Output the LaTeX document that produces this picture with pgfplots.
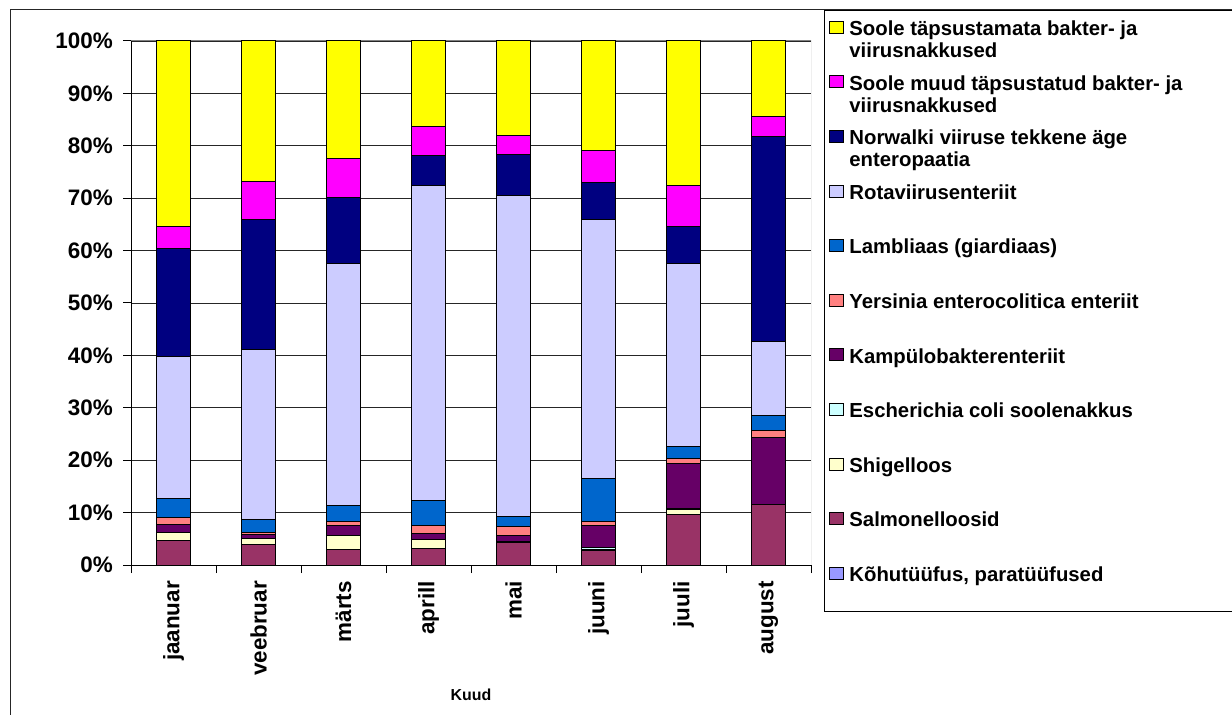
\documentclass[border=0pt]{standalone}
\usepackage{fontspec}
\setmainfont{Liberation Sans}
\usepackage{pgfplots}
\pgfplotsset{compat=1.18}
\usepackage{pgfplotstable}

\definecolor{cKh}{HTML}{9999FF}
\definecolor{cSal}{HTML}{993366}
\definecolor{cShi}{HTML}{FFFFCC}
\definecolor{cEsc}{HTML}{CCFFFF}
\definecolor{cKam}{HTML}{660066}
\definecolor{cYer}{HTML}{FF8080}
\definecolor{cLam}{HTML}{0066CC}
\definecolor{cRot}{HTML}{CCCCFF}
\definecolor{cNor}{HTML}{000080}
\definecolor{cMuu}{HTML}{FF00FF}
\definecolor{cTap}{HTML}{FFFF00}

% shares per month, %, bottom to top
\pgfplotstableread{
x kh  sal  shi esc kam  yer lam rot  nor  muu tap
0 0   4.6  1.6 0   1.6  1.2 3.7 27.0 20.7 4.2 35.4
1 0   3.9  1.2 0   0.8  0.3 2.5 32.5 24.8 7.1 26.9
2 0   2.9  2.7 0.1 1.9  0.7 3.1 46.2 12.6 7.3 22.5
3 0   3.2  1.7 0   1.2  1.4 4.8 60.1 5.7  5.5 16.4
4 0   4.3  0.2 0   1.2  1.7 1.9 61.3 7.8  3.6 18.0
5 0   2.7  0.3 0.3 4.2  0.8 8.3 49.4 7.0  6.1 20.9
6 0   9.7  0.8 0.2 8.6  1.0 2.3 35.0 7.0  7.8 27.6
7 0   11.5 0   0   12.9 1.3 2.8 14.1 39.1 3.9 14.4
}\data

\pgfplotsset{
  seg/.style={draw=black, line width=1bp,
    legend image code/.code={\draw[##1, line width=1bp] (0bp,4.6bp) rectangle (14bp,16.6bp);}},
}
\newcommand\lent[1]{\parbox[b][54.6bp][t]{382bp}{\raggedright\rule{0pt}{25bp}#1}}

\begin{document}
\begin{tikzpicture}
\path[use as bounding box] (0,0) rectangle (1232bp,715bp);
\begin{axis}[
  at={(131bp,150bp)}, anchor=south west,
  scale only axis, width=680bp, height=524bp,
  ybar stacked, bar width=34bp,
  xmin=-0.5, xmax=7.5, ymin=0, ymax=100,
  axis lines*=left,
  axis line style={black, line width=1bp},
  tick align=outside, major tick length=8bp,
  tick style={black, line width=1bp},
  xtick={-0.5,0.5,1.5,2.5,3.5,4.5,5.5,6.5,7.5},
  xticklabels={},
  extra x ticks={0,1,2,3,4,5,6,7},
  extra x tick labels={jaanuar,veebruar,märts,aprill,mai,juuni,juuli,august},
  extra x tick style={major tick length=0pt,
    xticklabel style={yshift=-16bp, rotate=90, anchor=east, inner sep=0pt}},
  ytick={0,10,...,100},
  yticklabels={0\%,10\%,20\%,30\%,40\%,50\%,60\%,70\%,80\%,90\%,100\%},
  yticklabel style={inner sep=0pt, anchor=east, xshift=-10bp},
  tick label style={font=\bfseries\fontsize{22.5}{24}\selectfont},
  ymajorgrids, grid style={black!85, line width=0.8bp},
  xlabel={Kuud},
  xlabel style={font=\bfseries\fontsize{16}{18}\selectfont,
    at={(axis description cs:0.5,-0.248)}, anchor=center},
  reverse legend,
  legend style={at={(axis description cs:1.019,1.059)}, anchor=north west,
    draw=black, line width=1bp, fill=white,
    inner xsep=5bp, inner ysep=0pt, row sep=0pt, column sep=5bp,
    font=\bfseries\fontsize{20.4}{22}\selectfont,
    nodes={inner sep=0pt, text depth=0pt}, cells={anchor=center}},
]
\addplot[seg, fill=cKh]  table[x=x, y=kh]  {\data};
\addlegendentry{\lent{Kõhutüüfus, paratüüfused}}
\addplot[seg, fill=cSal] table[x=x, y=sal] {\data};
\addlegendentry{\lent{Salmonelloosid}}
\addplot[seg, fill=cShi] table[x=x, y=shi] {\data};
\addlegendentry{\lent{Shigelloos}}
\addplot[seg, fill=cEsc] table[x=x, y=esc] {\data};
\addlegendentry{\lent{Escherichia coli soolenakkus}}
\addplot[seg, fill=cKam] table[x=x, y=kam] {\data};
\addlegendentry{\lent{Kampülobakterenteriit}}
\addplot[seg, fill=cYer] table[x=x, y=yer] {\data};
\addlegendentry{\lent{Yersinia enterocolitica enteriit}}
\addplot[seg, fill=cLam] table[x=x, y=lam] {\data};
\addlegendentry{\lent{Lambliaas (giardiaas)}}
\addplot[seg, fill=cRot] table[x=x, y=rot] {\data};
\addlegendentry{\lent{Rotaviirusenteriit}}
\addplot[seg, fill=cNor] table[x=x, y=nor] {\data};
\addlegendentry{\lent{Norwalki viiruse tekkene äge\\enteropaatia}}
\addplot[seg, fill=cMuu] table[x=x, y=muu] {\data};
\addlegendentry{\lent{Soole muud täpsustatud bakter- ja\\viirusnakkused}}
\addplot[seg, fill=cTap] table[x=x, y=tap] {\data};
\addlegendentry{\lent{Soole täpsustamata bakter- ja\\viirusnakkused}}
\draw[black!50, line width=1bp] (rel axis cs:0,1) -- (rel axis cs:1,1) -- (rel axis cs:1,0);
\end{axis}
\draw[black!85, line width=1bp] (10bp,-5bp) -- (10bp,705bp) -- (1240bp,705bp);
\end{tikzpicture}
\end{document}
